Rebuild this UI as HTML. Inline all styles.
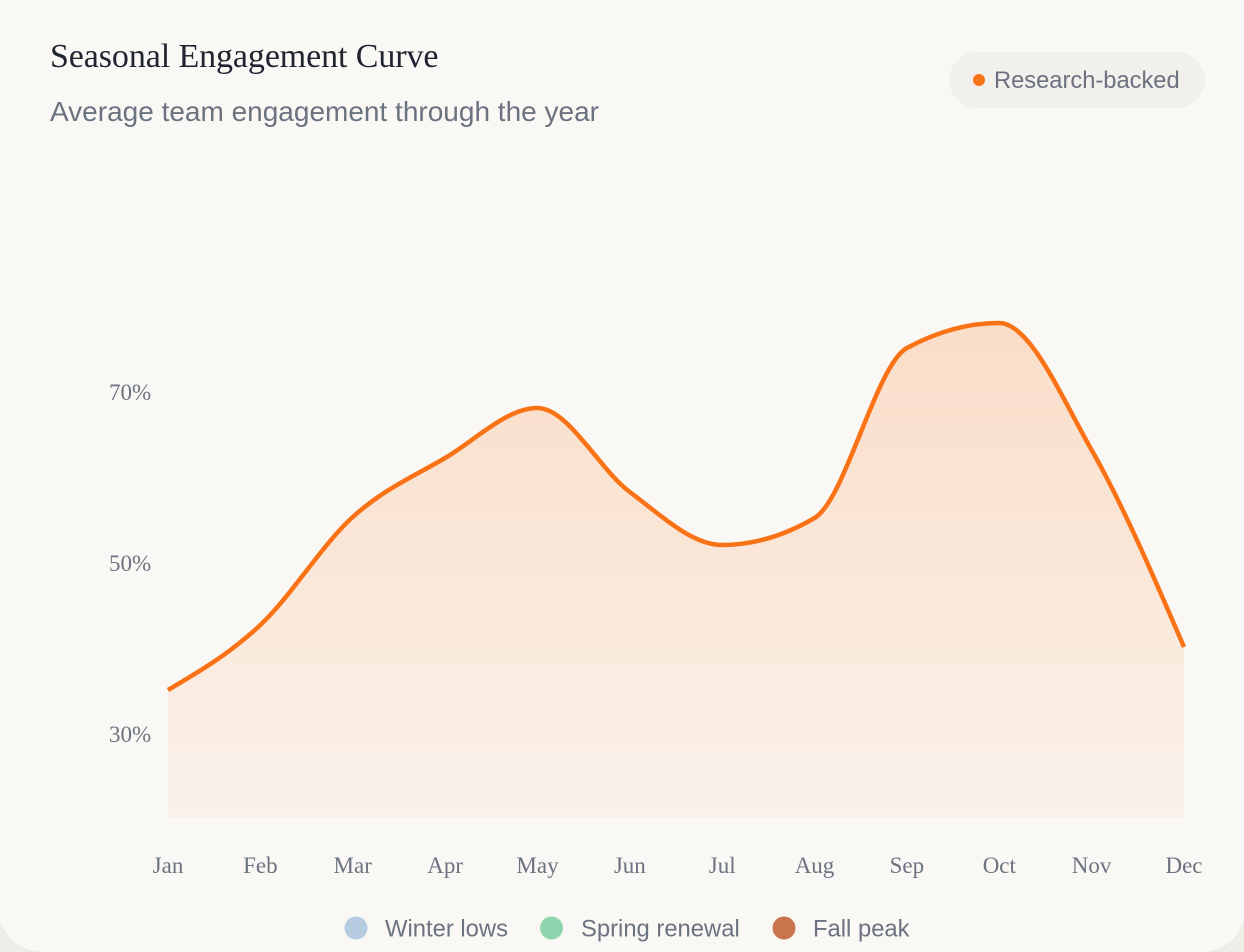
<!DOCTYPE html>
<html>
<head>
<meta charset="utf-8">
<style>
  html, body { margin:0; padding:0; }
  body { width:1244px; height:942px; overflow:hidden; background:#efeee9; position:relative; }
  .card { position:absolute; left:-2px; top:-40px; width:1248px; height:992px; background:#faf8f5; border-radius:44px; box-shadow:0 0 6px rgba(0,0,0,0.04); }
  svg { position:absolute; left:0; top:0; }
</style>
</head>
<body>
<div class="card"></div>
<svg width="1244" height="942" viewBox="0 0 1244 942" xmlns="http://www.w3.org/2000/svg">
  <defs>
    <linearGradient id="fillg" x1="0" y1="323" x2="0" y2="818" gradientUnits="userSpaceOnUse">
      <stop offset="0" stop-color="#f97316" stop-opacity="0.2"/>
      <stop offset="1" stop-color="#f97316" stop-opacity="0.05"/>
    </linearGradient>
  </defs>

  <!-- Title -->
  <text x="50" y="67" font-family="'Liberation Serif', serif" font-size="34" fill="#1f2430" letter-spacing="-0.1">Seasonal Engagement Curve</text>
  <text x="50" y="121" font-family="'Liberation Sans', sans-serif" font-size="28" fill="#6b7280">Average team engagement through the year</text>

  <!-- Badge -->
  <rect x="949" y="52" width="256" height="56" rx="28" fill="#f2f0ec"/>
  <circle cx="979" cy="80" r="6" fill="#f97316"/>
  <text x="994" y="88" font-family="'Liberation Sans', sans-serif" font-size="23.7" fill="#6b7280">Research-backed</text>

  <!-- Y labels -->
  <g font-family="'Liberation Serif', serif" font-size="23" fill="#6b7280">
    <text x="109" y="400">70%</text>
    <text x="109" y="571">50%</text>
    <text x="109" y="742">30%</text>
  </g>

  <!-- Area -->
  <path d="M168,690 C198.79,671.92 229.57,653.83 260.36,625 C291.15,596.17 321.94,544.83 352.73,517 C383.52,489.17 414.3,476.17 445.09,458 C475.88,439.83 506.66,408 537.45,408 C568.24,408 599.03,469.17 629.82,492 C660.61,514.83 691.39,545 722.18,545 C752.97,545 783.76,536 814.55,518 C845.34,500 876.12,364.67 906.91,348 C937.7,331.33 968.48,323 999.27,323 C1030.06,323 1060.85,396 1091.64,450 C1122.43,504 1153.21,575.5 1184,647 L1184,818 L168,818 Z" fill="url(#fillg)"/>
  <!-- Line -->
  <path d="M168,690 C198.79,671.92 229.57,653.83 260.36,625 C291.15,596.17 321.94,544.83 352.73,517 C383.52,489.17 414.3,476.17 445.09,458 C475.88,439.83 506.66,408 537.45,408 C568.24,408 599.03,469.17 629.82,492 C660.61,514.83 691.39,545 722.18,545 C752.97,545 783.76,536 814.55,518 C845.34,500 876.12,364.67 906.91,348 C937.7,331.33 968.48,323 999.27,323 C1030.06,323 1060.85,396 1091.64,450 C1122.43,504 1153.21,575.5 1184,647" fill="none" stroke="#f97316" stroke-width="4.5" stroke-linejoin="round"/>

  <!-- X labels -->
  <g font-family="'Liberation Serif', serif" font-size="23" fill="#6b7280" text-anchor="middle">
    <text x="168" y="873">Jan</text>
    <text x="260.4" y="873">Feb</text>
    <text x="352.7" y="873">Mar</text>
    <text x="445.1" y="873">Apr</text>
    <text x="537.5" y="873">May</text>
    <text x="629.8" y="873">Jun</text>
    <text x="722.2" y="873">Jul</text>
    <text x="814.5" y="873">Aug</text>
    <text x="906.9" y="873">Sep</text>
    <text x="999.3" y="873">Oct</text>
    <text x="1091.6" y="873">Nov</text>
    <text x="1184" y="873">Dec</text>
  </g>

  <!-- Legend -->
  <g font-family="'Liberation Sans', sans-serif" font-size="23.8" fill="#6b7280">
    <circle cx="356" cy="928" r="11.5" fill="#b7cce0"/>
    <text x="385" y="936.5">Winter lows</text>
    <circle cx="551.5" cy="928" r="11.5" fill="#8fd5ae"/>
    <text x="581" y="936.5">Spring renewal</text>
    <circle cx="784" cy="928" r="11.5" fill="#cb764a"/>
    <text x="813" y="936.5">Fall peak</text>
  </g>
</svg>
</body>
</html>
